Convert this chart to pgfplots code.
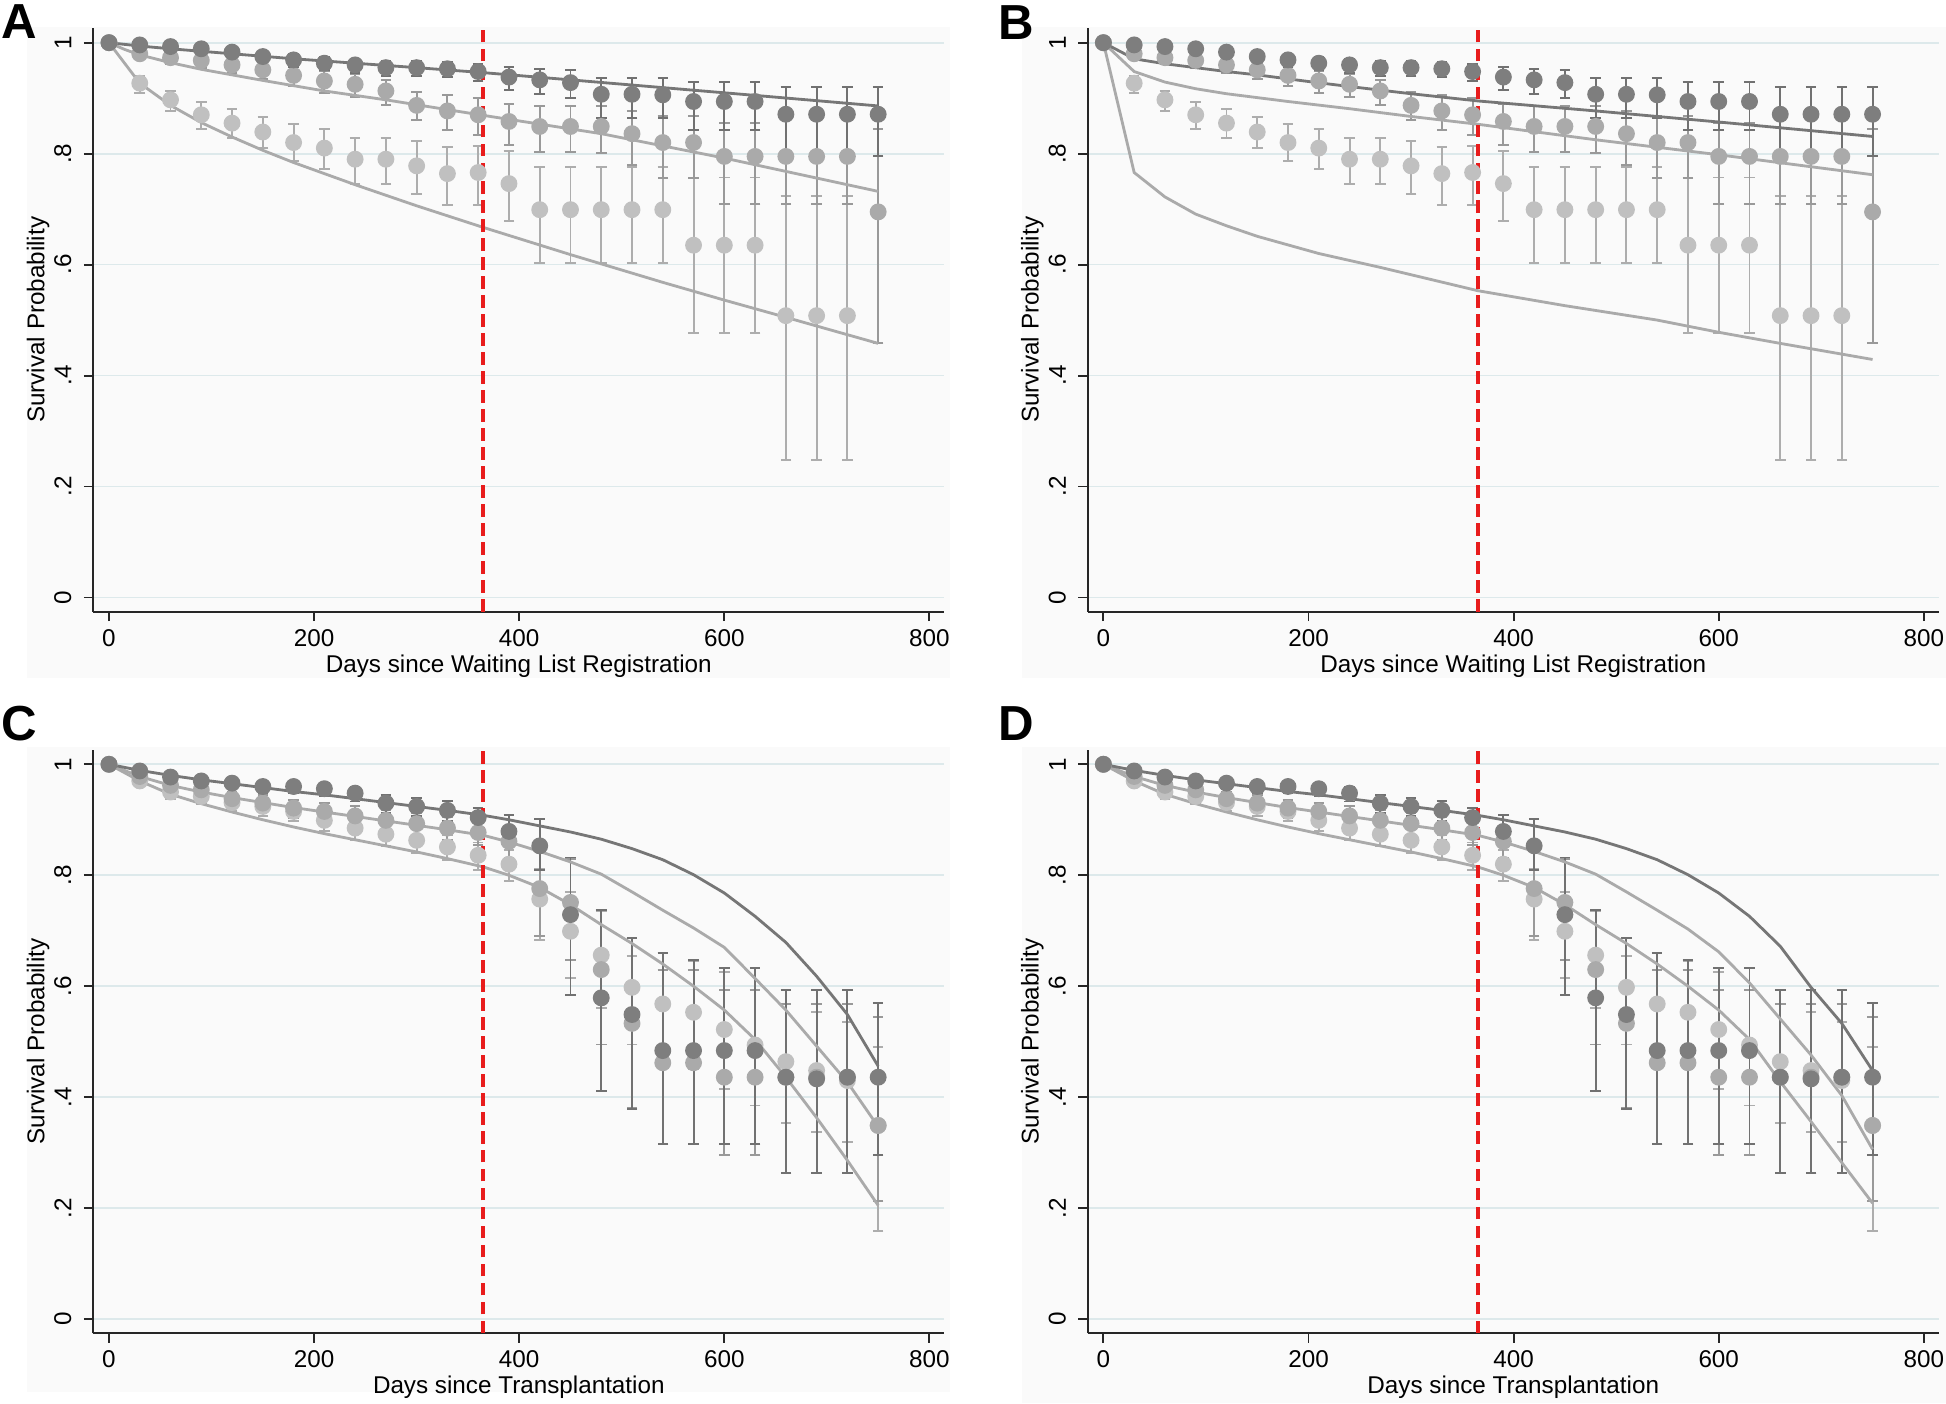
\documentclass[border=0pt]{standalone}
\usepackage{pgfplots}
\pgfplotsset{compat=1.18}
\usepackage{pgfplotstable}
\usepackage{fontspec}
\setmainfont{Liberation Sans}

\definecolor{gridc}{RGB}{221,233,235}
\definecolor{darkm}{RGB}{126,126,126}
\definecolor{midm}{RGB}{170,170,170}
\definecolor{lightm}{RGB}{192,192,192}
\definecolor{darkc}{RGB}{118,118,118}
\definecolor{lightc}{RGB}{170,170,170}
\definecolor{bgc}{RGB}{250,250,250}
\definecolor{redl}{RGB}{232,28,28}

% ---------- Kaplan-Meier estimates: waiting list (panels A, B) ----------
\pgfplotstableread{
t s lo hi
0 1 1 1
30 0.996 0.991 1.000
60 0.993 0.986 0.998
90 0.989 0.981 0.995
120 0.983 0.973 0.990
150 0.975 0.964 0.984
180 0.969 0.957 0.979
210 0.963 0.950 0.974
240 0.960 0.946 0.971
270 0.955 0.940 0.967
300 0.955 0.940 0.967
330 0.953 0.938 0.966
360 0.948 0.931 0.962
390 0.938 0.914 0.957
420 0.933 0.907 0.953
450 0.928 0.900 0.950
480 0.907 0.865 0.937
510 0.907 0.865 0.937
540 0.906 0.865 0.937
570 0.894 0.843 0.929
600 0.894 0.843 0.929
630 0.894 0.843 0.929
660 0.871 0.795 0.920
690 0.871 0.795 0.920
720 0.871 0.795 0.920
750 0.871 0.795 0.920
}\WLd
\pgfplotstableread{
t s lo hi
0 1 1 1
30 0.980 0.970 0.988
60 0.973 0.961 0.983
90 0.968 0.954 0.979
120 0.960 0.945 0.972
150 0.951 0.934 0.965
180 0.941 0.922 0.957
210 0.931 0.910 0.948
240 0.925 0.902 0.943
270 0.913 0.888 0.933
300 0.887 0.860 0.911
330 0.877 0.842 0.905
360 0.870 0.834 0.900
390 0.858 0.815 0.890
420 0.849 0.803 0.886
450 0.849 0.803 0.886
480 0.849 0.802 0.886
510 0.836 0.780 0.877
540 0.820 0.756 0.868
570 0.820 0.756 0.868
600 0.795 0.710 0.856
630 0.795 0.710 0.856
660 0.795 0.709 0.860
690 0.795 0.709 0.860
720 0.795 0.709 0.860
750 0.695 0.458 0.845
}\WLm
\pgfplotstableread{
t s lo hi
0 1 1 1
30 0.927 0.909 0.940
60 0.897 0.877 0.913
90 0.870 0.845 0.893
120 0.855 0.828 0.881
150 0.839 0.810 0.866
180 0.820 0.786 0.853
210 0.810 0.772 0.845
240 0.790 0.746 0.828
270 0.790 0.746 0.828
300 0.778 0.728 0.822
330 0.764 0.707 0.812
360 0.766 0.707 0.814
390 0.746 0.678 0.804
420 0.699 0.603 0.776
450 0.699 0.603 0.776
480 0.699 0.603 0.776
510 0.699 0.603 0.776
540 0.699 0.603 0.776
570 0.635 0.476 0.757
600 0.635 0.476 0.757
630 0.635 0.476 0.757
660 0.508 0.248 0.723
690 0.508 0.248 0.723
720 0.508 0.248 0.723
}\WLl

% ---------- Kaplan-Meier estimates: after transplantation (panels C, D) ----------
\pgfplotstableread{
t s lo hi
0 1 1 1
30 0.988 0.982 0.993
60 0.977 0.969 0.984
90 0.970 0.960 0.978
120 0.966 0.955 0.975
150 0.960 0.948 0.970
180 0.960 0.948 0.970
210 0.956 0.943 0.967
240 0.948 0.933 0.960
270 0.930 0.913 0.945
300 0.924 0.906 0.940
330 0.917 0.898 0.934
360 0.904 0.884 0.922
390 0.879 0.850 0.908
420 0.853 0.810 0.901
450 0.729 0.585 0.832
480 0.579 0.411 0.738
510 0.549 0.379 0.687
540 0.484 0.316 0.660
570 0.484 0.316 0.648
600 0.484 0.316 0.632
630 0.484 0.316 0.632
660 0.436 0.263 0.594
690 0.433 0.263 0.594
720 0.436 0.263 0.594
750 0.436 0.295 0.570
}\TXd
\pgfplotstableread{
t s lo hi
0 1 1 1
30 0.978 0.970 0.985
60 0.962 0.951 0.971
90 0.954 0.941 0.965
120 0.938 0.923 0.951
150 0.930 0.914 0.944
180 0.921 0.904 0.936
210 0.915 0.897 0.931
240 0.907 0.888 0.924
270 0.899 0.879 0.917
300 0.893 0.872 0.912
330 0.885 0.863 0.905
360 0.877 0.854 0.898
390 0.861 0.832 0.886
420 0.776 0.690 0.845
450 0.751 0.648 0.830
480 0.630 0.495 0.738
510 0.533 0.380 0.687
540 0.462 0.316 0.630
570 0.462 0.316 0.630
600 0.436 0.295 0.593
630 0.436 0.295 0.593
660 0.436 0.263 0.568
690 0.436 0.263 0.568
720 0.436 0.263 0.568
750 0.349 0.213 0.545
}\TXm
\pgfplotstableread{
t s lo hi
0 1 1 1
30 0.970 0.961 0.978
60 0.950 0.937 0.961
90 0.942 0.928 0.955
120 0.931 0.915 0.945
150 0.924 0.907 0.939
180 0.915 0.897 0.931
210 0.899 0.879 0.916
240 0.885 0.864 0.904
270 0.874 0.852 0.894
300 0.863 0.840 0.884
330 0.851 0.827 0.873
360 0.836 0.810 0.859
390 0.820 0.790 0.846
420 0.757 0.683 0.812
450 0.699 0.615 0.770
480 0.656 0.560 0.735
510 0.598 0.495 0.655
540 0.568 0.460 0.660
570 0.553 0.450 0.645
600 0.522 0.415 0.625
630 0.494 0.385 0.593
660 0.464 0.353 0.568
690 0.448 0.337 0.553
720 0.430 0.320 0.535
750 0.349 0.158 0.490
}\TXl

\pgfplotsset{
  stataaxis/.style={
    scale only axis, width=85.1mm, height=58.37mm,
    xmin=-15.3, xmax=814.5, ymin=-0.0256, ymax=1.0265,
    axis x line*=bottom, axis y line*=left,
    axis line style={-, line width=0.55pt, draw=black!85},
    xtick={0,200,400,600,800}, xticklabels={0,200,400,600,800},
    ytick={0,0.2,0.4,0.6,0.8,1}, yticklabels={0,.2,.4,.6,.8,1},
    tick align=outside, major tick length=0.95mm,
    every tick/.style={line width=0.55pt, black!85},
    ymajorgrids, grid style={line width=0.5pt, gridc},
    yticklabel style={rotate=90, anchor=south},
    xticklabel style={yshift=0.45mm},
    tick label style={font=\fontsize{6.9}{8}\selectfont},
    label style={font=\fontsize{6.9}{8}\selectfont},
    ylabel={Survival Probability},
    ylabel style={at={(axis description cs:-0.065,0.5)}, anchor=center},
    xlabel style={at={(axis description cs:0.5,-0.093)}, anchor=center},
  },
  km/.style={only marks, mark=*, mark size=2.2pt, color=#1,
    mark options={draw=#1, fill=#1},
    error bars/.cd, y dir=both, y explicit,
    error bar style={line width=0.55pt, color=#1!90!black},
    error mark options={rotate=90, line width=0.55pt, mark size=1.5pt, color=#1!90!black}},
  fit/.style={no marks, line width=0.8pt, color=#1},
  cut/.style={no marks, line width=1.1pt, color=redl, dash pattern=on 3.6pt off 1.8pt},
}
\newcommand\kmplot[2]{\addplot[km=#1] table[x=t, y=s,
  y error plus expr={\thisrow{hi}-\thisrow{s}},
  y error minus expr={\thisrow{s}-\thisrow{lo}}] {#2};}

\begin{document}
\begin{tikzpicture}
\useasboundingbox (0,0) rectangle (194.6mm,140.3mm);
\fill[bgc] (2.7mm,72.5mm) rectangle (95mm,137.6mm);
\fill[bgc] (102.2mm,72.5mm) rectangle (194.6mm,137.6mm);
\fill[bgc] (2.7mm,1.1mm) rectangle (95mm,65.6mm);
\fill[bgc] (102.2mm,0mm) rectangle (194.6mm,65.6mm);

% ---------------- A ----------------
\begin{axis}[stataaxis, at={(9.33mm,79.13mm)}, anchor=south west,
  xlabel={Days since Waiting List Registration}]
\kmplot{lightm}{\WLl}
\kmplot{midm}{\WLm}
\kmplot{darkm}{\WLd}
\addplot[fit=lightc] coordinates {(0,1) (30,0.927) (60,0.887) (90,0.856) (120,0.830) (150,0.806) (180,0.784) (240,0.744) (300,0.706) (365,0.667) (450,0.618) (540,0.568) (600,0.536) (660,0.505) (750,0.458)};
\addplot[fit=lightc] coordinates {(0,1) (15,0.988) (30,0.978) (60,0.964) (90,0.952) (120,0.942) (150,0.932) (210,0.913) (270,0.897) (365,0.869) (480,0.836) (600,0.792) (750,0.732)};
\addplot[fit=darkc] coordinates {(0,1) (30,0.994) (60,0.989) (120,0.980) (180,0.971) (240,0.963) (300,0.955) (365,0.946) (450,0.933) (540,0.919) (630,0.905) (750,0.886)};
\addplot[cut] coordinates {(365,-0.0256) (365,1.0265)};
\end{axis}

% ---------------- B ----------------
\begin{axis}[stataaxis, at={(108.77mm,79.13mm)}, anchor=south west,
  xlabel={Days since Waiting List Registration}]
\kmplot{lightm}{\WLl}
\kmplot{midm}{\WLm}
\kmplot{darkm}{\WLd}
\addplot[fit=lightc] coordinates {(0,1) (30,0.766) (60,0.722) (90,0.691) (120,0.670) (150,0.651) (210,0.620) (270,0.595) (365,0.553) (450,0.526) (540,0.500) (600,0.478) (660,0.458) (750,0.429)};
\addplot[fit=lightc] coordinates {(0,1) (30,0.948) (60,0.929) (90,0.917) (120,0.908) (180,0.894) (240,0.881) (300,0.867) (365,0.853) (480,0.825) (600,0.798) (750,0.762)};
\addplot[fit=darkc] coordinates {(0,1) (30,0.971) (60,0.962) (90,0.955) (120,0.948) (150,0.942) (200,0.930) (240,0.921) (300,0.908) (365,0.895) (480,0.877) (600,0.857) (750,0.831)};
\addplot[cut] coordinates {(365,-0.0256) (365,1.0265)};
\end{axis}

% ---------------- C ----------------
\begin{axis}[stataaxis, at={(9.33mm,6.97mm)}, anchor=south west,
  xlabel={Days since Transplantation}]
\kmplot{lightm}{\TXl}
\kmplot{midm}{\TXm}
\kmplot{darkm}{\TXd}
\addplot[fit=lightc] coordinates {(0,1) (30,0.970) (60,0.946) (90,0.929) (120,0.914) (150,0.900) (180,0.887) (210,0.875) (240,0.864) (270,0.853) (300,0.842) (330,0.830) (365,0.815) (390,0.800) (420,0.778) (450,0.747) (480,0.711) (510,0.677) (540,0.640) (570,0.600) (600,0.557) (630,0.504) (660,0.436) (690,0.363) (720,0.286) (750,0.205)};
\addplot[fit=lightc] coordinates {(0,1) (30,0.978) (60,0.962) (90,0.950) (120,0.940) (150,0.931) (180,0.922) (210,0.914) (240,0.906) (270,0.898) (300,0.890) (330,0.882) (365,0.872) (390,0.860) (420,0.843) (450,0.824) (480,0.802) (510,0.770) (540,0.737) (570,0.705) (600,0.670) (630,0.614) (660,0.557) (690,0.492) (720,0.427) (750,0.347)};
\addplot[fit=darkc] coordinates {(0,1) (30,0.989) (60,0.980) (90,0.972) (120,0.965) (150,0.958) (180,0.951) (210,0.945) (240,0.938) (270,0.931) (300,0.924) (330,0.917) (365,0.908) (390,0.900) (420,0.889) (450,0.878) (480,0.865) (510,0.848) (540,0.828) (570,0.801) (600,0.768) (630,0.726) (660,0.679) (690,0.618) (720,0.549) (750,0.456)};
\addplot[cut] coordinates {(365,-0.0256) (365,1.0265)};
\end{axis}

% ---------------- D ----------------
\begin{axis}[stataaxis, at={(108.77mm,6.97mm)}, anchor=south west,
  xlabel={Days since Transplantation}]
\kmplot{lightm}{\TXl}
\kmplot{midm}{\TXm}
\kmplot{darkm}{\TXd}
\addplot[fit=lightc] coordinates {(0,1) (30,0.970) (60,0.946) (90,0.929) (120,0.914) (150,0.900) (180,0.887) (210,0.875) (240,0.864) (270,0.853) (300,0.842) (330,0.830) (365,0.815) (390,0.800) (420,0.778) (450,0.747) (480,0.711) (510,0.677) (540,0.640) (570,0.600) (600,0.557) (630,0.504) (660,0.428) (690,0.356) (720,0.282) (750,0.209)};
\addplot[fit=lightc] coordinates {(0,1) (30,0.978) (60,0.962) (90,0.950) (120,0.940) (150,0.931) (180,0.922) (210,0.914) (240,0.906) (270,0.898) (300,0.890) (330,0.882) (365,0.872) (390,0.860) (420,0.843) (450,0.824) (480,0.802) (510,0.770) (540,0.737) (570,0.703) (600,0.662) (630,0.606) (660,0.541) (690,0.476) (720,0.403) (750,0.306)};
\addplot[fit=darkc] coordinates {(0,1) (30,0.989) (60,0.980) (90,0.972) (120,0.965) (150,0.958) (180,0.951) (210,0.945) (240,0.938) (270,0.931) (300,0.924) (330,0.917) (365,0.908) (390,0.900) (420,0.889) (450,0.878) (480,0.865) (510,0.848) (540,0.828) (570,0.801) (600,0.768) (630,0.726) (660,0.672) (690,0.598) (720,0.533) (750,0.448)};
\addplot[cut] coordinates {(365,-0.0256) (365,1.0265)};
\end{axis}

% panel letters
\node[font=\fontsize{14}{16}\selectfont\bfseries] at (1.95mm,138.15mm) {A};
\node[font=\fontsize{14}{16}\selectfont\bfseries] at (101.6mm,138.0mm) {B};
\node[font=\fontsize{14}{16}\selectfont\bfseries] at (1.95mm,67.9mm) {C};
\node[font=\fontsize{14}{16}\selectfont\bfseries] at (101.6mm,67.9mm) {D};
\end{tikzpicture}
\end{document}
